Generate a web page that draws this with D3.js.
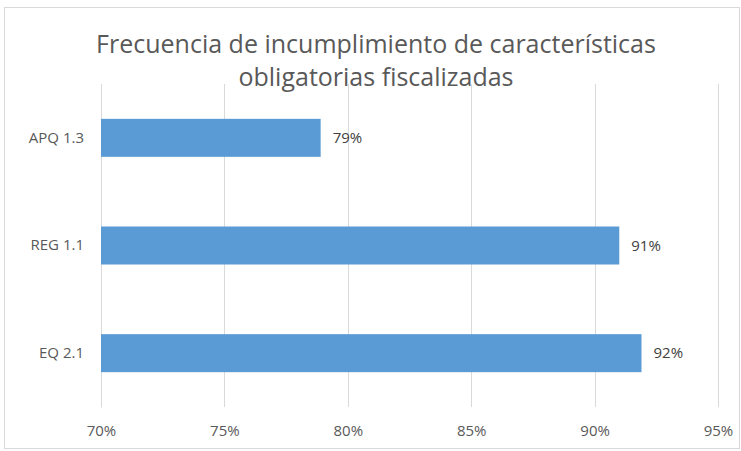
<!DOCTYPE html>
<html>
<head>
<meta charset="utf-8">
<script src="https://cdn.jsdelivr.net/npm/d3@7"></script>
<style>
  body { margin: 0; background: #fff; }
  svg { display: block; font-family: "Liberation Sans Narrow", "Open Sans", sans-serif; }
</style>
</head>
<body>
<svg id="chart" width="741" height="451"></svg>
<script>
// datos del gráfico
var categories = ["APQ 1.3", "REG 1.1", "EQ 2.1"];
var values = [0.789, 0.910, 0.919];
var tickValues = [0.70, 0.75, 0.80, 0.85, 0.90, 0.95];
var titleLines = ["Frecuencia de incumplimiento de características", "obligatorias fiscalizadas"];

var svg = d3.select("#chart"),
    width = +svg.attr("width"),
    height = +svg.attr("height");

var margin = {top: 84, right: 23, bottom: 44, left: 101};

// marco
svg.append("rect")
    .attr("x", 4.5).attr("y", 7.5)
    .attr("width", width - 6).attr("height", height - 10)
    .attr("fill", "#fff")
    .attr("stroke", "#d9d9d9");

var x = d3.scaleLinear()
    .domain([0.70, 0.95])
    .range([margin.left, width - margin.right]);

var y = d3.scaleBand()
    .domain(categories)
    .range([margin.top, height - margin.bottom])
    .paddingInner(0.647)
    .paddingOuter(0.3235);

// titulo
svg.append("g").selectAll("text")
    .data(titleLines)
    .enter().append("text")
    .attr("x", 376)
    .attr("y", function(d, i) { return 53 + i * 33; })
    .attr("text-anchor", "middle")
    .attr("font-size", 25)
    .attr("fill", "#595959")
    .text(function(d) { return d; });

// lineas de cuadricula
svg.append("g")
    .selectAll("line")
    .data(tickValues)
    .enter().append("line")
    .attr("x1", function(d) { return Math.round(x(d)) + 0.5; })
    .attr("x2", function(d) { return Math.round(x(d)) + 0.5; })
    .attr("y1", margin.top)
    .attr("y2", height - margin.bottom)
    .attr("stroke", "#d9d9d9")
    .attr("stroke-width", 1);

// eje x
var xAxis = svg.append("g")
    .attr("transform", "translate(0," + (height - margin.bottom) + ")")
    .call(d3.axisBottom(x).tickValues(tickValues).tickFormat(d3.format(".0%")).tickSize(0).tickPadding(18));
xAxis.select(".domain").remove();
xAxis.selectAll("text")
    .attr("font-size", 15)
    .attr("font-family", "Liberation Sans Narrow, Open Sans, sans-serif")
    .attr("fill", "#595959");

// eje y
var yAxis = svg.append("g")
    .attr("transform", "translate(" + margin.left + ",0)")
    .call(d3.axisLeft(y).tickSize(0).tickPadding(17));
yAxis.select(".domain")
    .attr("stroke", "#d9d9d9");
yAxis.selectAll("text")
    .attr("font-size", 15)
    .attr("font-family", "Liberation Sans Narrow, Open Sans, sans-serif")
    .attr("fill", "#595959");

// barras
svg.append("g")
    .selectAll("rect")
    .data(values)
    .enter().append("rect")
    .attr("x", x(0.70))
    .attr("y", function(d, i) { return y(categories[i]); })
    .attr("width", function(d) { return x(d) - x(0.70); })
    .attr("height", y.bandwidth())
    .attr("fill", "#5b9bd5");

// etiquetas de valores
svg.append("g")
    .selectAll("text")
    .data(values)
    .enter().append("text")
    .attr("x", function(d) { return x(d) + 12; })
    .attr("y", function(d, i) { return y(categories[i]) + y.bandwidth() / 2; })
    .attr("dy", "0.35em")
    .attr("font-size", 15)
    .attr("fill", "#404040")
    .text(function(d) { return d3.format(".0%")(d); });
</script>
</body>
</html>
